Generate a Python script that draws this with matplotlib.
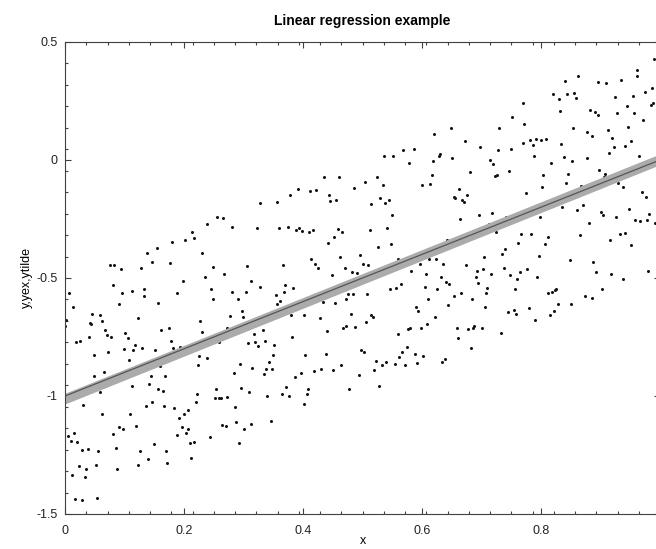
import matplotlib
matplotlib.use('Agg')
import matplotlib.pyplot as plt
import numpy as np

plt.rcParams['font.family'] = ['Liberation Sans', 'DejaVu Sans']
plt.rcParams['axes.unicode_minus'] = False

x = [0.076, 0.083, 0.094, 0.128, 0.138, 0.146, 0.154, 0.176, 0.180, 0.202,
     0.214, 0.216, 0.230, 0.238, 0.248, 0.256, 0.266, 0.268, 0.280, 0.306,
     0.322, 0.328,
     0.236, 0.007, 0.080, 0.198, 0.313, 0.327, 0.133, 0.113, 0.095, 0.246,
     0.281, 0.304, 0.188, 0.132, 0.249, 0.290, 0.013, 0.090, 0.157, 0.298,
     0.045, 0.058, 0.122, 0.299, 0.278, 0.001, 0.062, 0.227, 0.042, 0.044,
     0.000, 0.067, 0.161, 0.174, 0.231, 0.273, 0.101, 0.070, 0.078, 0.106,
     0.318, 0.040, 0.178, 0.019, 0.026, 0.308, 0.319, 0.258, 0.118, 0.325,
     0.182, 0.194, 0.099, 0.115, 0.129, 0.152, 0.072, 0.048, 0.226, 0.239,
     0.108, 0.294, 0.224, 0.160, 0.315, 0.066, 0.284, 0.049, 0.144, 0.168,
     0.142, 0.112, 0.254, 0.296, 0.156, 0.164, 0.059, 0.310, 0.222, 0.252,
     0.259, 0.262, 0.272, 0.220, 0.147, 0.031, 0.136, 0.166, 0.184, 0.286,
     0.206, 0.200, 0.063, 0.109, 0.192, 0.288, 0.312, 0.264, 0.270, 0.120,
     0.196, 0.091, 0.098, 0.207, 0.301, 0.203, 0.015, 0.081, 0.189, 0.005,
     0.244, 0.010, 0.021, 0.210, 0.217, 0.292, 0.150, 0.086, 0.029, 0.038,
     0.126, 0.056, 0.170, 0.212, 0.140, 0.171, 0.024, 0.052, 0.123, 0.035,
     0.087, 0.012, 0.034, 0.017, 0.028, 0.054,
     0.648, 0.620, 0.568, 0.586, 0.536, 0.552, 0.630, 0.628, 0.650, 0.618,
     0.578, 0.616, 0.436, 0.460, 0.524, 0.504, 0.534, 0.600, 0.614, 0.486,
     0.392, 0.412, 0.422, 0.378, 0.444, 0.530, 0.456, 0.446, 0.544, 0.538,
     0.357, 0.514, 0.653, 0.550, 0.360, 0.374, 0.388, 0.394, 0.398, 0.410,
     0.416, 0.458, 0.466, 0.512, 0.542, 0.452, 0.442, 0.548, 0.526, 0.642,
     0.496, 0.462, 0.413, 0.560, 0.611, 0.624, 0.420, 0.366, 0.500, 0.510,
     0.596, 0.636, 0.426, 0.470, 0.482, 0.490, 0.448, 0.582, 0.606, 0.632,
     0.640, 0.646, 0.370, 0.384, 0.564, 0.546, 0.556, 0.605, 0.626, 0.368,
     0.354, 0.476, 0.484, 0.508, 0.654, 0.473, 0.610, 0.362, 0.356, 0.434,
     0.454, 0.644, 0.590, 0.594, 0.380, 0.401, 0.480, 0.515, 0.518, 0.622,
     0.428, 0.506, 0.608, 0.472, 0.468, 0.488, 0.576, 0.580, 0.598, 0.440,
     0.332, 0.559, 0.382, 0.336, 0.352, 0.498, 0.502, 0.574, 0.566, 0.404,
     0.438, 0.588, 0.602, 0.350, 0.562, 0.638, 0.634, 0.343, 0.522, 0.540,
     0.532, 0.554, 0.572, 0.592, 0.464, 0.338, 0.348, 0.430, 0.450, 0.520,
     0.418, 0.396, 0.334, 0.494, 0.386, 0.372, 0.408, 0.528, 0.478, 0.364,
     0.406, 0.340, 0.376, 0.402, 0.346,
     0.990, 0.962, 0.961, 0.863, 0.840, 0.895, 0.910, 0.934, 0.987, 0.974,
     0.820, 0.844, 0.856, 0.858, 0.830, 0.925, 0.955, 0.769, 0.989, 0.985,
     0.944, 0.832, 0.882, 0.890, 0.896, 0.928, 0.957, 0.752, 0.972, 0.772,
     0.854, 0.946, 0.730, 0.912, 0.877, 0.886, 0.672, 0.920, 0.782, 0.792,
     0.800, 0.808, 0.770, 0.834, 0.951, 0.786, 0.698, 0.728, 0.750, 0.922,
     0.941, 0.914, 0.788, 0.964, 0.838, 0.878, 0.714, 0.852, 0.720, 0.816,
     0.680, 0.746, 0.846, 0.898, 0.908, 0.906, 0.723, 0.726, 0.804, 0.842,
     0.929, 0.868, 0.802, 0.938, 0.662, 0.970, 0.774, 0.676, 0.976, 0.656,
     0.668, 0.670, 0.870, 0.836, 0.948, 0.860, 0.900, 0.904, 0.696, 0.718,
     0.798, 0.742, 0.926, 0.982, 0.664, 0.958, 0.966, 0.978, 0.992, 0.712,
     0.880, 0.724, 0.766, 0.784, 0.812, 0.866, 0.932, 0.942, 0.916, 0.762,
     0.806, 0.952, 0.740, 0.734, 0.796, 0.704, 0.848, 0.888, 0.674, 0.737,
     0.776, 0.702, 0.692, 0.716, 0.748, 0.764, 0.892, 0.918, 0.980, 0.690,
     0.760, 0.794, 0.937,
     0.694, 0.710, 0.708, 0.756, 0.826, 0.824, 0.818, 0.811, 0.902, 0.666,
     0.874, 0.885, 0.684, 0.829, 0.850, 0.706, 0.780, 0.754, 0.744, 0.822,
     0.758, 0.815, 0.790, 0.658, 0.678, 0.686, 0.688, 0.700, 0.732, 0.660,
     0.682]

y = [-0.446, -0.445, -0.463, -0.458, -0.394, -0.434, -0.373, -0.438, -0.347, -0.340,
     -0.304, -0.329, -0.393, -0.273, -0.455, -0.243, -0.247, -0.482, -0.285, -0.451,
     -0.290, -0.184,
     -0.494, -0.562, -0.531, -0.511, -0.514, -0.540, -0.548, -0.556, -0.562, -0.548,
     -0.561, -0.558, -0.564, -0.576, -0.588, -0.590, -0.621, -0.612, -0.607, -0.640,
     -0.651, -0.658, -0.668, -0.667, -0.661, -0.678, -0.682, -0.681, -0.691, -0.694,
     -0.702, -0.719, -0.722, -0.710, -0.729, -0.713, -0.733, -0.742, -0.750, -0.753,
     -0.739, -0.751, -0.767, -0.773, -0.768, -0.774, -0.773, -0.771, -0.785, -0.788,
     -0.797, -0.791, -0.801, -0.805, -0.797, -0.806, -0.815, -0.828, -0.831, -0.838,
     -0.847, -0.863, -0.870, -0.873, -0.881, -0.900, -0.904, -0.915, -0.914, -0.917,
     -0.949, -0.959, -0.970, -0.968, -0.972, -0.979, -0.983, -0.982, -0.993, -1.007,
     -1.008, -1.008, -1.003, -1.024, -1.027, -1.037, -1.041, -1.042, -1.051, -1.048,
     -1.061, -1.075, -1.078, -1.078, -1.093, -1.112, -1.119, -1.121, -1.129, -1.126,
     -1.130, -1.133, -1.141, -1.138, -1.141, -1.157, -1.158, -1.162, -1.167, -1.169,
     -1.175, -1.191, -1.196, -1.198, -1.196, -1.201, -1.205, -1.222, -1.227, -1.226,
     -1.232, -1.234, -1.234, -1.261, -1.268, -1.285, -1.297, -1.294, -1.292, -1.308,
     -1.311, -1.335, -1.342, -1.438, -1.441, -1.431,
     0.136, 0.109, 0.041, 0.048, 0.016, 0.016, 0.024, 0.018, 0.008, -0.003,
     -0.013, -0.064, -0.073, -0.073, -0.072, -0.095, -0.107, -0.107, -0.103, -0.120,
     -0.124, -0.133, -0.129, -0.147, -0.150, -0.162, -0.169, -0.175, -0.171, -0.181,
     -0.177, -0.186, -0.157, -0.234, -0.290, -0.285, -0.298, -0.287, -0.302, -0.305,
     -0.295, -0.294, -0.305, -0.297, -0.290, -0.328, -0.352, -0.357, -0.369, -0.340,
     -0.404, -0.411, -0.418, -0.421, -0.418, -0.418, -0.442, -0.445, -0.439, -0.446,
     -0.439, -0.439, -0.459, -0.456, -0.476, -0.480, -0.489, -0.470, -0.482, -0.496,
     -0.516, -0.527, -0.531, -0.542, -0.525, -0.547, -0.544, -0.540, -0.547, -0.559,
     -0.573, -0.566, -0.569, -0.568, -0.576, -0.589, -0.589, -0.599, -0.610, -0.602,
     -0.607, -0.616, -0.621, -0.638, -0.655, -0.657, -0.653, -0.658, -0.664, -0.667,
     -0.669, -0.686, -0.694, -0.702, -0.712, -0.706, -0.715, -0.713, -0.713, -0.725,
     -0.720, -0.739, -0.750, -0.767, -0.784, -0.805, -0.812, -0.791, -0.815, -0.825,
     -0.823, -0.821, -0.829, -0.828, -0.833, -0.843, -0.856, -0.857, -0.852, -0.856,
     -0.867, -0.864, -0.867, -0.862, -0.867, -0.886, -0.884, -0.884, -0.890, -0.890,
     -0.894, -0.904, -0.907, -0.912, -0.918, -0.960, -0.969, -0.959, -0.972, -0.990,
     -0.993, -0.999, -1.001, -1.035, -1.105,
     0.428, 0.381, 0.356, 0.356, 0.335, 0.332, 0.328, 0.338, 0.306, 0.290,
     0.278, 0.280, 0.282, 0.261, 0.257, 0.268, 0.270, 0.243, 0.243, 0.234,
     0.230, 0.206, 0.210, 0.202, 0.191, 0.201, 0.201, 0.182, 0.168, 0.154,
     0.137, 0.138, 0.134, 0.127, 0.117, 0.103, 0.081, 0.093, 0.083, 0.089,
     0.086, 0.087, 0.071, 0.069, 0.082, 0.062, 0.055, 0.042, 0.045, 0.054,
     0.059, 0.031, 0.016, 0.016, 0.011, 0.007, -0.001, -0.003, -0.018, -0.011,
     -0.049, -0.045, -0.058, -0.044, -0.059, -0.071, -0.068, -0.062, -0.062, -0.097,
     -0.099, -0.110, -0.116, -0.116, -0.123, -0.136, -0.141, -0.148, -0.157, -0.160,
     -0.171, -0.177, -0.189, -0.198, -0.209, -0.213, -0.219, -0.234, -0.232, -0.226,
     -0.240, -0.243, -0.242, -0.230, -0.251, -0.256, -0.260, -0.254, -0.267, -0.271,
     -0.267, -0.305, -0.315, -0.315, -0.325, -0.319, -0.315, -0.311, -0.340, -0.352,
     -0.355, -0.362, -0.377, -0.397, -0.407, -0.412, -0.424, -0.432, -0.445, -0.458,
     -0.460, -0.463, -0.472, -0.482, -0.486, -0.476, -0.476, -0.482, -0.469, -0.497,
     -0.503, -0.497, -0.506,
     -0.520, -0.542, -0.564, -0.548, -0.545, -0.551, -0.561, -0.564, -0.548, -0.562,
     -0.575, -0.586, -0.590, -0.610, -0.612, -0.624, -0.626, -0.634, -0.644, -0.641,
     -0.654, -0.655, -0.679, -0.710, -0.718, -0.712, -0.702, -0.713, -0.732, -0.754,
     -0.795]

# true line and fitted line (end points)
x_line = [0.0, 1.0]
yex = [-1.0, 0.0]
ytilde = [-1.014, 0.0]

xticks = [0, 0.2, 0.4, 0.6, 0.8, 1.0]
xtick_labels = ['0', '0.2', '0.4', '0.6', '0.8', '']
yticks = [-1.5, -1, -0.5, 0, 0.5]
ytick_labels = ['-1.5', '-1', '-0.5', '0', '0.5']

fig = plt.figure(figsize=(6.56, 5.49), dpi=100)
ax = fig.add_axes([65/656, 35/549, 595/656, 472/549])

ax.plot(x, y, 'o', ms=2.2, mew=0, color='#141414')
ax.plot(x_line, ytilde, color='#ababab', lw=7.2, solid_capstyle='round')
ax.plot(x_line, yex, color='#555555', lw=0.9)

ax.set_xlim(0, 1)
ax.set_ylim(-1.5, 0.5)
ax.set_xticks(xticks)
ax.set_xticklabels(xtick_labels)
ax.set_yticks(yticks)
ax.set_yticklabels(ytick_labels)
ax.set_xticks(np.arange(29) / 28, minor=True)
ax.set_yticks(-1.5 + np.arange(23) / 11, minor=True)

ax.tick_params(which='both', direction='in', top=True, right=True,
               color='#404040', labelsize=9, labelcolor='#222222')
ax.tick_params(which='major', length=4.5, width=0.8)
ax.tick_params(which='minor', length=2.2, width=0.8)
ax.tick_params(axis='x', pad=8)
ax.tick_params(axis='y', pad=5.5)
for s in ax.spines.values():
    s.set_color('#404040')
    s.set_linewidth(0.8)

ax.set_title('Linear regression example', fontsize=10, fontweight='bold', pad=12)
ax.set_xlabel('x', fontsize=9, labelpad=-1.5)
ax.set_ylabel('y,yex,ytilde', fontsize=9, labelpad=2)

fig.savefig('out.png', dpi=100)
